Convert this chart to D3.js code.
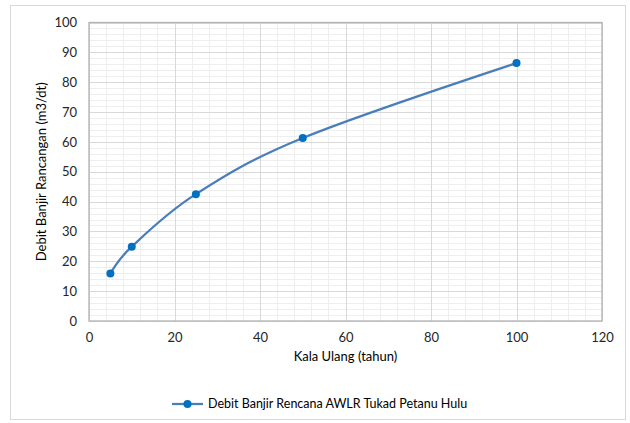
<!DOCTYPE html>
<html>
<head>
<meta charset="utf-8">
<script src="https://cdn.jsdelivr.net/npm/d3@7"></script>
<style>
  html, body { margin: 0; padding: 0; background: #fff; }
  svg { display: block; font-family: Lato, "Open Sans", sans-serif; }
</style>
</head>
<body>
<svg id="chart" width="630" height="423"></svg>
<script>
// Return periods (years) and design flood discharge (m3/s)
const kalaUlang = [5, 10, 25, 50, 100];
const debit = [15.9, 24.9, 42.5, 61.3, 86.4];
const xTicks = [0, 20, 40, 60, 80, 100, 120];
const yTicks = [0, 10, 20, 30, 40, 50, 60, 70, 80, 90, 100];
const seriesName = "Debit Banjir Rencana AWLR Tukad Petanu Hulu";
const xTitle = "Kala Ulang (tahun)";
const yTitle = "Debit Banjir Rancangan (m3/dt)";

const svg = d3.select("#chart");
const plot = { left: 89, top: 22.5, right: 602, bottom: 321 };

const x = d3.scaleLinear().domain([0, 120]).range([plot.left, plot.right]);
const y = d3.scaleLinear().domain([0, 100]).range([plot.bottom, plot.top]);

// Chart frame
svg.append("rect")
  .attr("x", 10.5).attr("y", 5.5).attr("width", 615).attr("height", 414)
  .attr("fill", "#fff").attr("stroke", "#d9d9d9").attr("stroke-width", 1);

// Minor gridlines
const g = svg.append("g");
g.selectAll(".vminor").data(d3.range(0, 121, 4).filter(v => v % 20 !== 0))
  .join("line")
  .attr("x1", d => Math.round(x(d)) + 0.5).attr("x2", d => Math.round(x(d)) + 0.5)
  .attr("y1", plot.top).attr("y2", plot.bottom)
  .attr("stroke", "#eeeeee").attr("stroke-width", 1);
g.selectAll(".hminor").data(d3.range(0, 101, 2).filter(v => v % 10 !== 0))
  .join("line")
  .attr("x1", plot.left).attr("x2", plot.right)
  .attr("y1", d => Math.round(y(d)) + 0.5).attr("y2", d => Math.round(y(d)) + 0.5)
  .attr("stroke", "#eeeeee").attr("stroke-width", 1);

// Major gridlines
g.selectAll(".vmajor").data(xTicks).join("line")
  .attr("x1", d => Math.round(x(d)) + 0.5).attr("x2", d => Math.round(x(d)) + 0.5)
  .attr("y1", plot.top).attr("y2", plot.bottom)
  .attr("stroke", "#d9d9d9").attr("stroke-width", 1);
g.selectAll(".hmajor").data(yTicks).join("line")
  .attr("x1", plot.left).attr("x2", plot.right)
  .attr("y1", d => Math.round(y(d)) + 0.5).attr("y2", d => Math.round(y(d)) + 0.5)
  .attr("stroke", "#d9d9d9").attr("stroke-width", 1);

// Plot area border
svg.append("rect")
  .attr("x", plot.left).attr("y", plot.top)
  .attr("width", plot.right - plot.left).attr("height", plot.bottom - plot.top)
  .attr("fill", "none").attr("stroke", "#b3b3b3").attr("stroke-width", 1.3);

// Axes (labels only, lines drawn by the border)
const xAxis = svg.append("g")
  .attr("transform", `translate(0,${plot.bottom})`)
  .call(d3.axisBottom(x).tickValues(xTicks).tickSize(0).tickPadding(12));
const yAxis = svg.append("g")
  .attr("transform", `translate(${plot.left},0)`)
  .call(d3.axisLeft(y).tickValues(yTicks).tickSize(0).tickPadding(12));
[xAxis, yAxis].forEach(a => {
  a.select(".domain").remove();
  a.selectAll("text").attr("font-size", 13).attr("fill", "#262626")
    .attr("font-family", "Lato, 'Open Sans', sans-serif");
});

// Axis titles
svg.append("text")
  .attr("x", (plot.left + plot.right) / 2).attr("y", 361)
  .attr("text-anchor", "middle").attr("font-size", 13).attr("fill", "#000")
  .text(xTitle);
svg.append("text")
  .attr("transform", `translate(46,${(plot.top + plot.bottom) / 2}) rotate(-90)`)
  .attr("text-anchor", "middle").attr("font-size", 13).attr("fill", "#000")
  .text(yTitle);

// Series
const pts = kalaUlang.map((k, i) => [k, debit[i]]);
const line = d3.line()
  .x(d => x(d[0])).y(d => y(d[1]))
  .curve(d3.curveCardinal.tension(0));
svg.append("path")
  .datum(pts)
  .attr("d", line)
  .attr("fill", "none").attr("stroke", "#4a7ebb").attr("stroke-width", 2.25);
svg.selectAll(".pt").data(pts).join("circle")
  .attr("cx", d => x(d[0])).attr("cy", d => y(d[1])).attr("r", 4)
  .attr("fill", "#0070c0");

// Legend
const lg = svg.append("g").attr("transform", "translate(172,404)");
lg.append("line").attr("x1", 0).attr("x2", 31).attr("y1", 0).attr("y2", 0)
  .attr("stroke", "#4a7ebb").attr("stroke-width", 2.25);
lg.append("circle").attr("cx", 15.5).attr("cy", 0).attr("r", 4).attr("fill", "#0070c0");
lg.append("text").attr("x", 36).attr("y", 0).attr("dy", "0.35em")
  .attr("font-size", 12.5).attr("fill", "#000").text(seriesName);
</script>
</body>
</html>
